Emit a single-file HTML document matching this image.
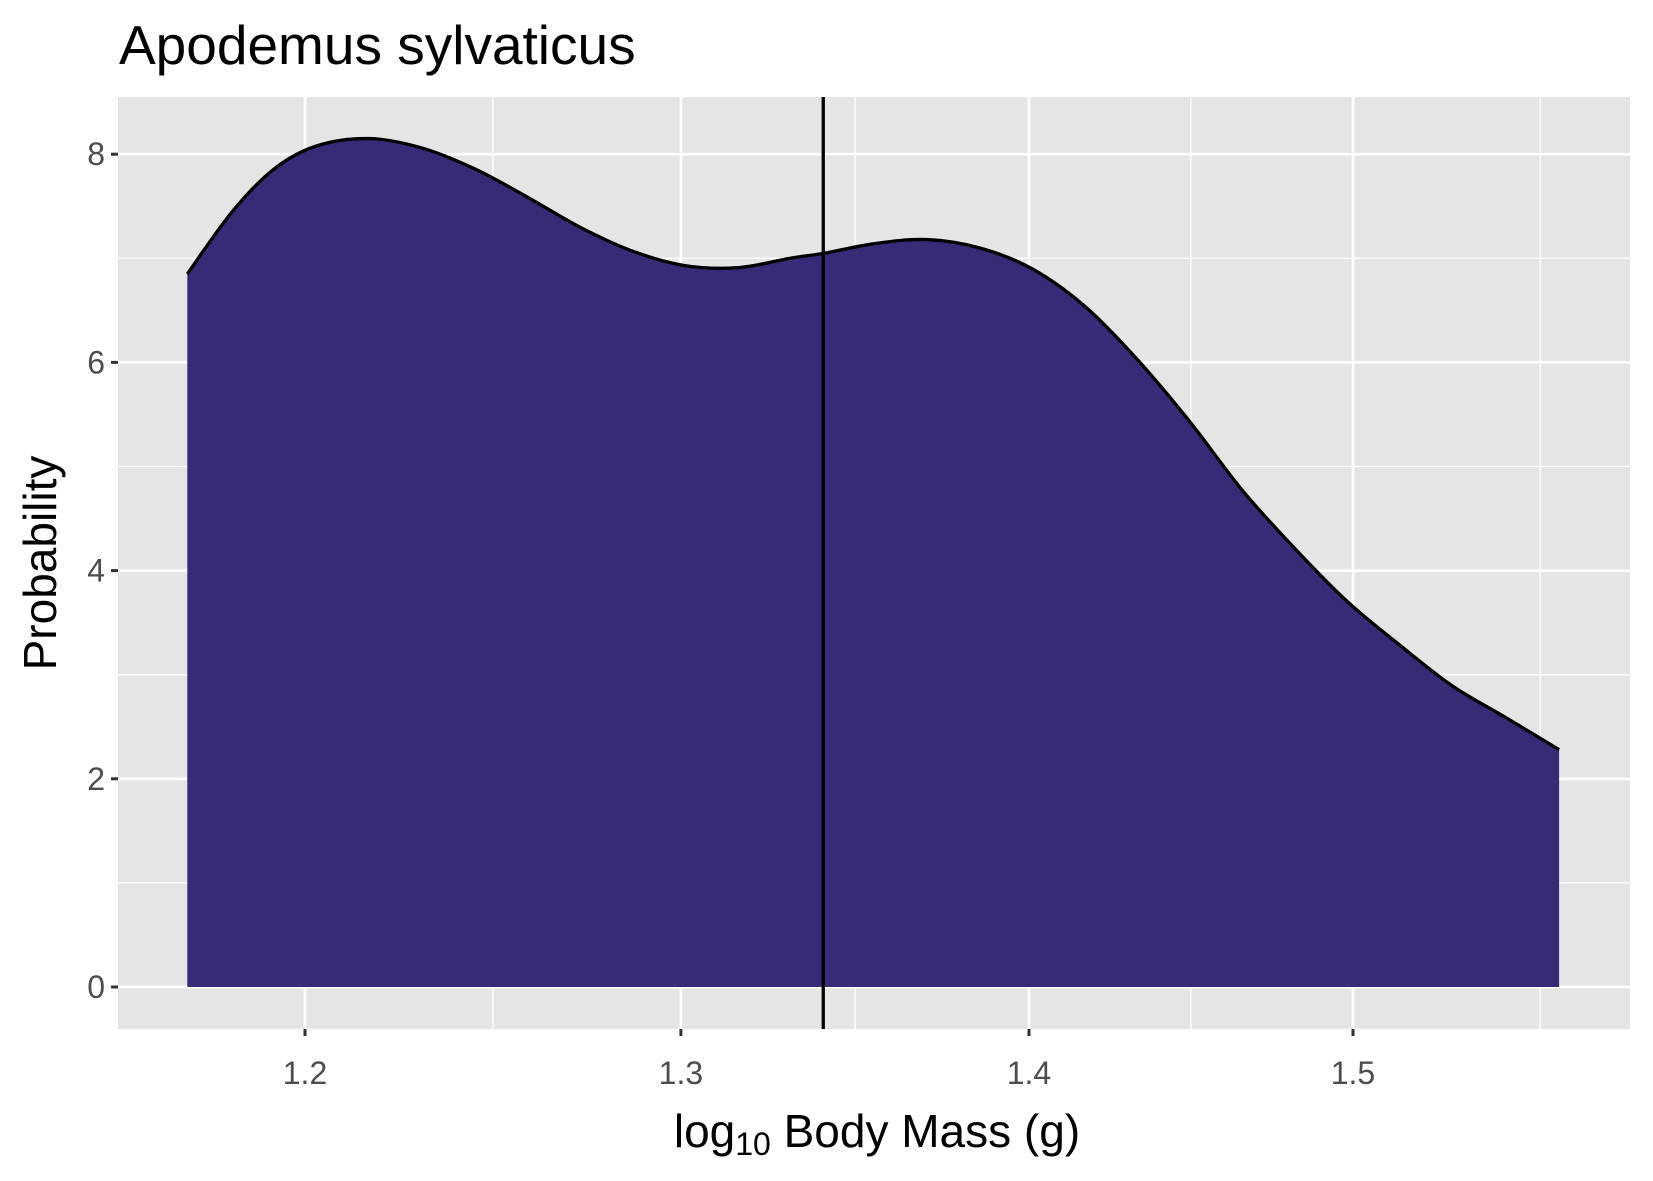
<!DOCTYPE html>
<html><head><meta charset="utf-8"><style>
html,body{margin:0;padding:0;background:#fff;}
svg{display:block;font-family:"Liberation Sans",Arial,sans-serif;}
</style></head><body>
<svg id="chart" width="1653" height="1181" viewBox="0 0 1653 1181">
<rect x="0" y="0" width="1653" height="1181" fill="#fff"/>
<text x="119" y="64" font-size="55" fill="#000">Apodemus sylvaticus</text>
<rect x="118" y="97" width="1512" height="932" fill="#e5e5e5"/>
<g id="grid"></g>
<g id="marks"></g>
<g id="axes"></g>
<text x="877" y="1147" font-size="46" text-anchor="middle" fill="#000">log<tspan font-size="32" dy="8">10</tspan><tspan dy="-8"> Body Mass (g)</tspan></text>
<text transform="translate(56,563) rotate(-90)" font-size="46" text-anchor="middle" fill="#000">Probability</text>
</svg>
<script>
const xValues = [1.1703,1.1816,1.1922,1.2030,1.2165,1.2302,1.2441,1.2581,1.2723,1.2866,1.3011,1.3158,1.3306,1.3405,1.3545,1.3698,1.3853,1.4009,1.4167,1.4326,1.4488,1.4651,1.4816,1.4983,1.5152,1.5322,1.5495,1.5673];
const densityValues = [6.85,7.45,7.86,8.08,8.15,8.06,7.86,7.59,7.30,7.07,6.93,6.91,7.00,7.05,7.14,7.18,7.10,6.90,6.54,6.03,5.43,4.77,4.21,3.70,3.28,2.89,2.59,2.28];
const meanValue = [1.340];
const xTicks = [1.2,1.3,1.4,1.5];
const xTickLabels = ["1.2","1.3","1.4","1.5"];
const xMinor = [1.2490,1.3491,1.4491,1.561];
const yTicks = [0,2,4,6,8];
const yTickLabels = ["0","2","4","6","8"];
const yMinor = [1,3,5,7];

const NS="http://www.w3.org/2000/svg";
const L=118,R=1630,T=97,B=1029;
function sx(v){return 305+(Math.log10(v)-Math.log10(1.2))*10814;}
function sy(v){return 987-v*104.1;}
function mk(tag,attrs,parent){const e=document.createElementNS(NS,tag);for(const k in attrs)e.setAttribute(k,attrs[k]);parent.appendChild(e);return e;}
const grid=document.getElementById('grid'),marks=document.getElementById('marks'),axes=document.getElementById('axes');

yMinor.forEach(v=>{const e=mk('line',{x1:L,x2:R,y1:sy(v),y2:sy(v),stroke:'#fff','stroke-width':1.3},grid);

});
xMinor.forEach(v=>{const e=mk('line',{x1:sx(v),x2:sx(v),y1:T,y2:B,stroke:'#fff','stroke-width':1.3},grid);

});
yTicks.forEach(v=>{const e=mk('line',{x1:L,x2:R,y1:sy(v),y2:sy(v),stroke:'#fff','stroke-width':2.7},grid);

});
xTicks.forEach(v=>{const e=mk('line',{x1:sx(v),x2:sx(v),y1:T,y2:B,stroke:'#fff','stroke-width':2.7},grid);

});

const pts=xValues.map((x,i)=>[sx(x),sy(densityValues[i])]);
let d='M'+pts[0][0]+','+pts[0][1];
for(let i=0;i<pts.length-1;i++){const p0=pts[Math.max(0,i-1)],p1=pts[i],p2=pts[i+1],p3=pts[Math.min(pts.length-1,i+2)];
d+=' C'+(p1[0]+(p2[0]-p0[0])/6)+','+(p1[1]+(p2[1]-p0[1])/6)+' '+(p2[0]-(p3[0]-p1[0])/6)+','+(p2[1]-(p3[1]-p1[1])/6)+' '+p2[0]+','+p2[1];}
const area=mk('path',{d:d+' L'+pts[pts.length-1][0]+','+sy(0)+' L'+pts[0][0]+','+sy(0)+' Z',fill:'#372b77'},marks);


const line=mk('path',{d:d,fill:'none',stroke:'#000','stroke-width':3.3},marks);


const vl=mk('line',{x1:sx(meanValue[0]),x2:sx(meanValue[0]),y1:T,y2:B,stroke:'#000','stroke-width':3.3},marks);



xTicks.forEach((v,i)=>{const t=mk('line',{x1:sx(v),x2:sx(v),y1:B,y2:B+7,stroke:'#333','stroke-width':3},axes);


const tx=mk('text',{x:sx(v),y:1084,'font-size':32,'text-anchor':'middle',fill:'#4d4d4d'},axes);tx.textContent=xTickLabels[i];

});
yTicks.forEach((v,i)=>{const t=mk('line',{x1:L-7,x2:L,y1:sy(v),y2:sy(v),stroke:'#333','stroke-width':3},axes);


const tx=mk('text',{x:L-13,y:sy(v)+11,'font-size':32,'text-anchor':'end',fill:'#4d4d4d'},axes);tx.textContent=yTickLabels[i];

});
</script>
</body></html>
